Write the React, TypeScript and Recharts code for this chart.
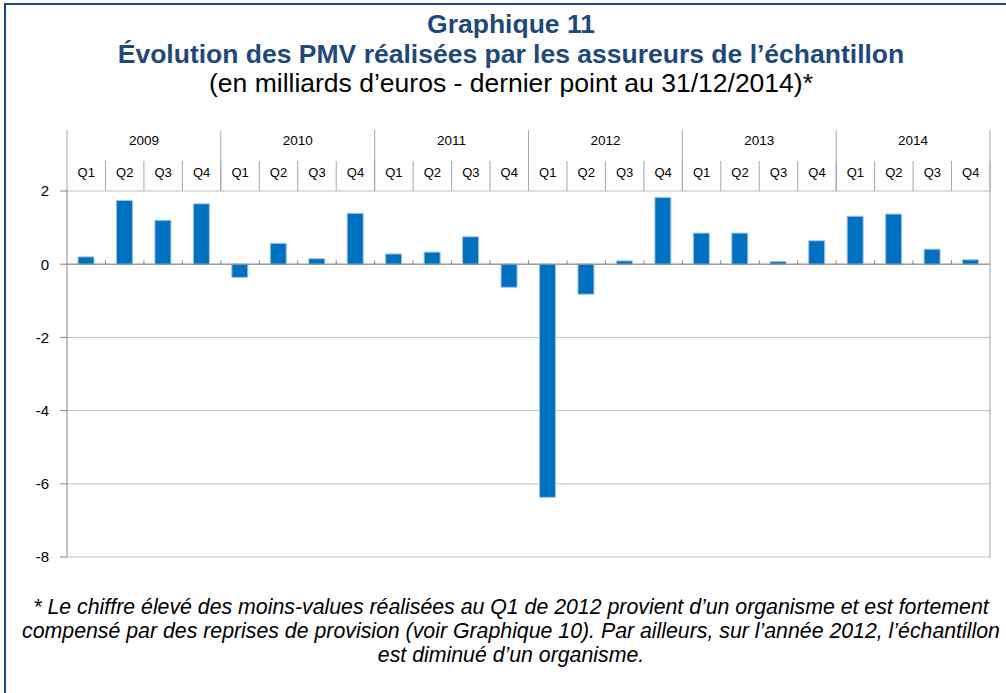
import { BarChart, Bar, XAxis, YAxis, CartesianGrid, ReferenceLine } from "recharts";

const years = ["2009", "2010", "2011", "2012", "2013", "2014"];
const quarters = ["Q1", "Q2", "Q3", "Q4"];
// PMV réalisées, milliards d'euros, par trimestre
const pmv = [
  0.2, 1.74, 1.2, 1.65,
  -0.36, 0.57, 0.15, 1.39,
  0.28, 0.33, 0.75, -0.63,
  -6.37, -0.82, 0.09, 1.82,
  0.85, 0.85, 0.07, 0.64,
  1.31, 1.37, 0.41, 0.12,
];
const yTicks = [-8, -6, -4, -2, 0, 2];

const titleLines = [
  "Graphique 11",
  "Évolution des PMV réalisées par les assureurs de l’échantillon",
];
const subtitle = "(en milliards d’euros - dernier point au 31/12/2014)*";
const noteLines = [
  "* Le chiffre élevé des moins-values réalisées au Q1 de 2012 provient d’un organisme et est fortement",
  "compensé par des reprises de provision (voir Graphique 10). Par ailleurs, sur l’année 2012, l’échantillon",
  "est diminué d’un organisme.",
];

const data = pmv.map((v, i) => ({
  q: quarters[i % 4],
  year: years[Math.floor(i / 4)],
  value: v,
}));

const BLUE_TEXT = "#1F497D";
const SEP = "#A6A6A6";
const AXIS = "#868686";
const QROW = 30;
const YROW = 31;
const FONT = "Liberation Sans, Arial, sans-serif";

function QuarterTick(props: any) {
  const { x, y, payload } = props;
  const half = payload && payload.offset ? payload.offset : 923 / 48;
  return (
    <g>
      <line x1={x + half} x2={x + half} y1={y} y2={y - QROW} stroke={SEP} />
      <text x={x} y={y - 14} textAnchor="middle" fontSize={13} fill="#000" fontFamily={FONT}>
        {payload.value}
      </text>
    </g>
  );
}

function YearTick(props: any) {
  const { x, y, payload, index } = props;
  const half = payload && payload.offset ? payload.offset : 923 / 12;
  return (
    <g>
      {index === 0 && (
        <line x1={x - half} x2={x - half} y1={y + QROW} y2={y - YROW} stroke={SEP} />
      )}
      <line x1={x + half} x2={x + half} y1={y + QROW} y2={y - YROW} stroke={SEP} />
      <text x={x} y={y - 16} textAnchor="middle" fontSize={13.5} fill="#000" fontFamily={FONT}>
        {payload.value}
      </text>
    </g>
  );
}

function ZeroLine(props: any) {
  const { x1, y1, x2, y2 } = props;
  const step = (x2 - x1) / pmv.length;
  return (
    <g>
      <line x1={x1} y1={y1} x2={x2} y2={y2} stroke={AXIS} strokeWidth={1} />
      {pmv.map((_, i) =>
        i > 0 ? (
          <line key={i} x1={x1 + step * i} x2={x1 + step * i} y1={y1} y2={y1 - 4} stroke={AXIS} />
        ) : null
      )}
    </g>
  );
}

const textLine = (top: number, size: number, lh: number) => ({
  position: "absolute" as const,
  left: 0,
  width: 1022,
  top,
  textAlign: "center" as const,
  fontFamily: FONT,
  fontSize: size,
  lineHeight: `${lh}px`,
  whiteSpace: "nowrap" as const,
});

export default function App() {
  return (
    <div
      style={{
        position: "fixed",
        left: 0,
        top: 0,
        width: 1006,
        height: 693,
        overflow: "hidden",
        background: "#fff",
      }}
    >
      <div
        style={{
          position: "absolute",
          left: 4,
          top: 3,
          width: 1020,
          height: 720,
          border: `2px solid ${BLUE_TEXT}`,
          boxSizing: "border-box",
        }}
      />
      {titleLines.map((t, i) => (
        <div
          key={t}
          style={{ ...textLine(i === 0 ? 10.6 : 40.6, 26.5, 26.5), fontWeight: "bold", color: BLUE_TEXT }}
        >
          {t}
        </div>
      ))}
      <div style={{ ...textLine(69.6, 26.5, 26.5), color: "#000" }}>{subtitle}</div>

      <div style={{ position: "absolute", left: 0, top: 0 }}>
        <BarChart
          width={1006}
          height={600}
          data={data}
          margin={{ top: 130, right: 0, left: 0, bottom: 43 }}
        >
          <CartesianGrid xAxisId="q" yAxisId="l" vertical={false} stroke="#BFBFBF" />
          <XAxis
            xAxisId="q"
            dataKey="q"
            orientation="top"
            height={QROW}
            axisLine={false}
            tickLine={false}
            tickSize={0}
            tickMargin={0}
            interval={0}
            tick={<QuarterTick />}
          />
          <XAxis
            xAxisId="y"
            dataKey="year"
            orientation="top"
            allowDuplicatedCategory={false}
            height={YROW}
            axisLine={false}
            tickLine={false}
            tickSize={0}
            tickMargin={0}
            interval={0}
            tick={<YearTick />}
          />
          <YAxis
            yAxisId="l"
            type="number"
            domain={[-8, 2]}
            ticks={yTicks}
            width={67}
            interval={0}
            axisLine={{ stroke: AXIS }}
            tickLine={{ stroke: AXIS }}
            tickSize={7}
            tickMargin={11}
            tick={{ fontSize: 15, fill: "#000", fontFamily: FONT }}
          />
          <YAxis
            yAxisId="r"
            orientation="right"
            type="number"
            domain={[-8, 2]}
            width={16}
            tick={false}
            tickLine={false}
            axisLine={{ stroke: SEP }}
          />
          <ReferenceLine xAxisId="q" yAxisId="l" y={0} shape={<ZeroLine />} />
          <Bar
            xAxisId="q"
            yAxisId="l"
            dataKey="value"
            barSize={16}
            fill="#0070C0"
            stroke="#9DC3E6"
            strokeWidth={1}
            isAnimationActive={false}
          />
        </BarChart>
      </div>

      {noteLines.map((t, i) => (
        <div
          key={i}
          style={{ ...textLine([595, 619.4, 643.4][i], 21.3, 24.5), fontStyle: "italic", color: "#000" }}
        >
          {t}
        </div>
      ))}
    </div>
  );
}
